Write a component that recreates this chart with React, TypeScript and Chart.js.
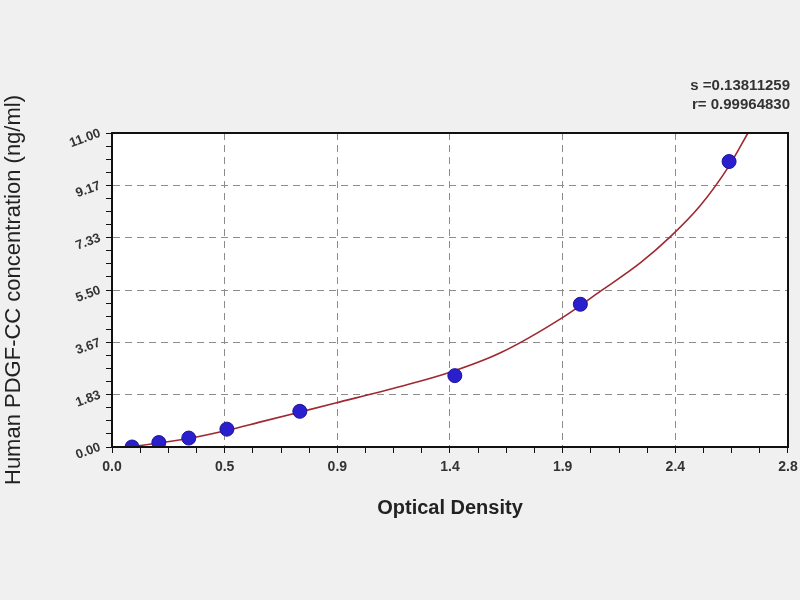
import { useEffect, useRef } from "react";
import { Chart, registerables } from "chart.js";

Chart.register(...registerables);

// standards: optical density vs concentration (ng/ml)
const OD_VALUES = [0.083, 0.194, 0.318, 0.476, 0.778, 1.42, 1.94, 2.556];
const CONC_VALUES = [0, 0.156, 0.313, 0.625, 1.25, 2.5, 5, 10];

// fitted curve
const FIT_OD = [0, 0.083, 0.2, 0.318, 0.474, 0.616, 0.776, 0.926, 1.195, 1.394, 1.609, 1.869, 2.022, 2.188, 2.312, 2.436, 2.556, 2.634];
const FIT_CONC = [0, 0.02, 0.15, 0.3, 0.58, 0.88, 1.22, 1.54, 2.12, 2.6, 3.3, 4.55, 5.45, 6.45, 7.36, 8.45, 9.85, 11.0];

const X_TICK_LABELS = ["0.0", "0.5", "0.9", "1.4", "1.9", "2.4", "2.8"];
const Y_TICK_LABELS = ["0.00", "1.83", "3.67", "5.50", "7.33", "9.17", "11.00"];
const X_MAX = 2.8;
const Y_MAX = 11;
const MINOR = 4;

const FIT_STATS = ["s =0.13811259", "r= 0.99964830"];

const buildTicks = (labels: string[], max: number) => (scale: any) => {
  const n = (labels.length - 1) * MINOR;
  scale.ticks = Array.from({ length: n + 1 }, (_, i) => ({ value: (i * max) / n }));
};

const pickLabel = (labels: string[]) => (_v: any, i: number) =>
  i % MINOR === 0 ? labels[i / MINOR] : "";

const gridColor = (ctx: any) => (ctx.index % MINOR === 0 ? "#8c8c8c" : "rgba(0,0,0,0)");

const framePlugin = {
  id: "frame",
  beforeDraw(chart: any) {
    const { ctx, chartArea: a, width, height } = chart;
    ctx.save();
    ctx.fillStyle = "#f0f0f0";
    ctx.fillRect(0, 0, width, height);
    ctx.fillStyle = "#ffffff";
    ctx.fillRect(a.left, a.top, a.right - a.left, a.bottom - a.top);
    ctx.restore();
  },
  afterDraw(chart: any) {
    const { ctx, chartArea: a } = chart;
    ctx.save();
    ctx.strokeStyle = "#111";
    ctx.lineWidth = 2;
    ctx.strokeRect(a.left, a.top, a.right - a.left, a.bottom - a.top);
    ctx.fillStyle = "#333";
    ctx.font = "bold 15px Arial, 'Liberation Sans'";
    ctx.textAlign = "right";
    ctx.textBaseline = "middle";
    ctx.fillText(FIT_STATS[0], 790, 86);
    ctx.fillText(FIT_STATS[1], 790, 105);
    ctx.restore();
  }
};

export default function App() {
  const canvasRef = useRef<HTMLCanvasElement | null>(null);

  useEffect(() => {
    document.body.style.margin = "0";
    if (!canvasRef.current) return;

    const chart = new Chart(canvasRef.current, {
      type: "scatter",
      data: {
        datasets: [
          {
            label: "Standards",
            data: OD_VALUES.map((x, i) => ({ x, y: CONC_VALUES[i] })),
            pointRadius: 7,
            pointBackgroundColor: "#2a1fcc",
            pointBorderColor: "#1d1499",
            pointBorderWidth: 1,
            order: 0
          },
          {
            label: "Fit",
            data: FIT_OD.map((x, i) => ({ x, y: FIT_CONC[i] })),
            showLine: true,
            cubicInterpolationMode: "monotone",
            borderColor: "#a02830",
            borderWidth: 1.6,
            pointRadius: 0,
            order: 1
          }
        ]
      },
      options: {
        animation: false,
        responsive: true,
        maintainAspectRatio: false,
        layout: { padding: { top: 133, right: 12, bottom: 0, left: 0 } },
        plugins: { legend: { display: false }, tooltip: { enabled: false } },
        scales: {
          x: {
            type: "linear",
            min: 0,
            max: X_MAX,
            afterBuildTicks: buildTicks(X_TICK_LABELS, X_MAX),
            afterFit: (s: any) => {
              s.height = 153;
              s.paddingLeft = 0;
              s.paddingRight = 0;
            },
            ticks: {
              autoSkip: false,
              maxRotation: 0,
              padding: 6,
              color: "#333",
              font: { family: "Arial, 'Liberation Sans'", size: 14, weight: "bold" },
              callback: pickLabel(X_TICK_LABELS)
            },
            grid: { color: gridColor, tickColor: "#111", tickLength: 6, lineWidth: 1 },
            border: { color: "#111", width: 2, dash: [7, 5] },
            title: {
              display: true,
              text: "Optical Density",
              color: "#222",
              padding: { top: 0, bottom: 80 },
              font: { family: "Arial, 'Liberation Sans'", size: 20, weight: "bold" }
            }
          },
          y: {
            type: "linear",
            min: 0,
            max: Y_MAX,
            afterBuildTicks: buildTicks(Y_TICK_LABELS, Y_MAX),
            afterFit: (s: any) => {
              s.width = 112;
              s.paddingTop = 0;
              s.paddingBottom = 0;
            },
            ticks: {
              autoSkip: false,
              minRotation: 20,
              maxRotation: 20,
              padding: 6,
              color: "#333",
              font: { family: "Arial, 'Liberation Sans'", size: 13, weight: "bold" },
              callback: pickLabel(Y_TICK_LABELS)
            },
            grid: { color: gridColor, tickColor: "#111", tickLength: 6, lineWidth: 1 },
            border: { color: "#111", width: 2, dash: [7, 5] },
            title: {
              display: true,
              text: "Human PDGF-CC concentration (ng/ml)",
              color: "#222",
              padding: { top: 1, bottom: 0 },
              font: { family: "Arial, 'Liberation Sans'", size: 22, weight: "normal" }
            }
          }
        }
      },
      plugins: [framePlugin]
    });

    return () => chart.destroy();
  }, []);

  return (
    <div style={{ position: "relative", width: 800, height: 600 }}>
      <canvas ref={canvasRef} />
    </div>
  );
}
